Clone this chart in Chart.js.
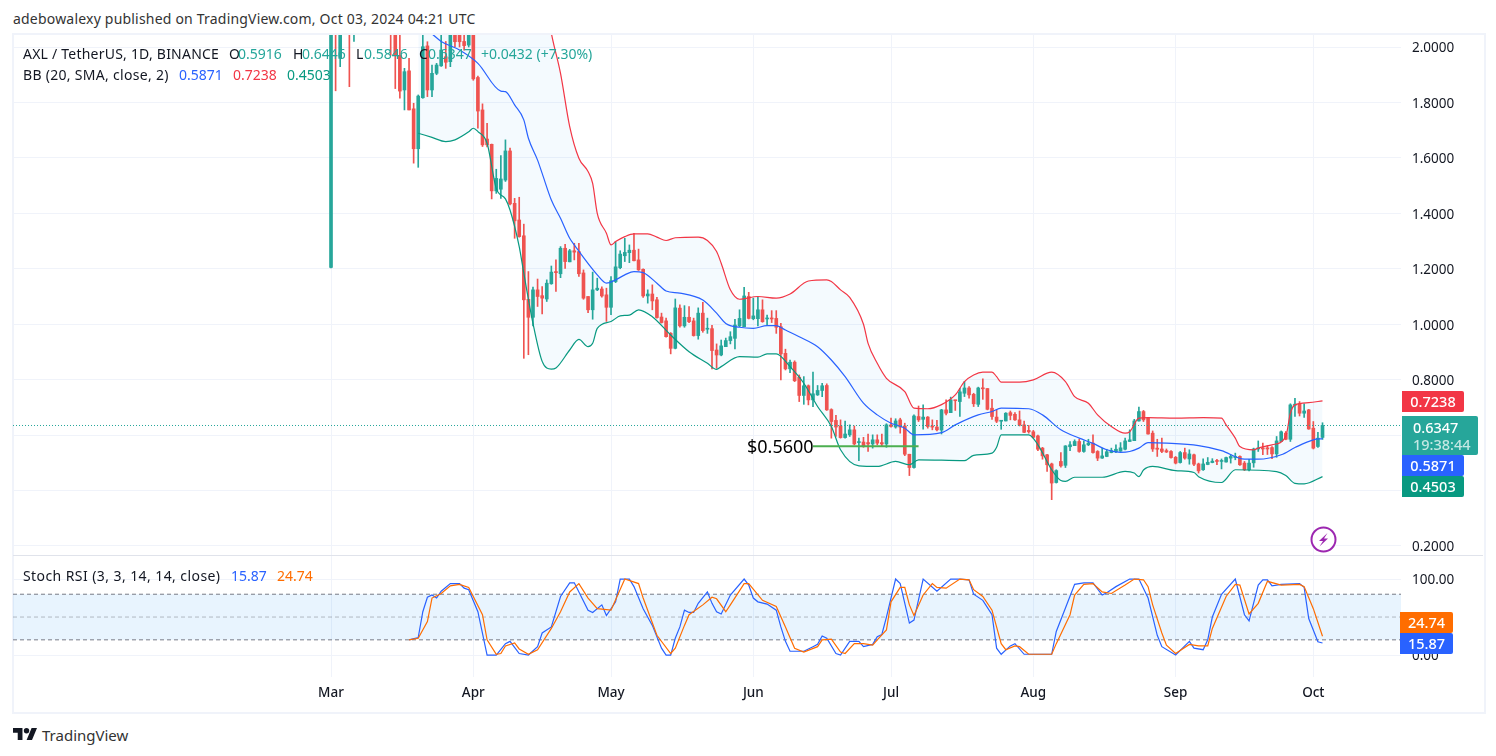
<!DOCTYPE html>
<html>
<head>
<meta charset="utf-8">
<script src="https://cdn.jsdelivr.net/npm/chart.js@4/dist/chart.umd.min.js"></script>
<style>
  html, body { margin: 0; padding: 0; background: #fff; }
  body { width: 1496px; height: 756px; position: relative; overflow: hidden; font-family: "Noto Sans", sans-serif; color: #131722; }
  #frame { position: absolute; left: 12px; top: 33px; width: 1470px; height: 677px; border: 2px solid #f0f3fa; box-sizing: content-box; }
  #sep { position: absolute; left: 13px; top: 555px; width: 1470px; height: 1px; background: #e0e3eb; }
  canvas { position: absolute; }
  #priceChart { left: 13px; top: 35px; }
  #rsiChart { left: 13px; top: 556px; }
  .t { position: absolute; font-size: 14px; line-height: 18px; white-space: nowrap; }
  .tag { position: absolute; left: 1402px; width: 62px; color: #fff; font-size: 14.5px; font-weight: 500; line-height: 21px; text-align: center; border-radius: 0 2px 2px 0; }
</style>
</head>
<body>
<div id="frame"></div>
<canvas id="priceChart" width="1471" height="520"></canvas>
<canvas id="rsiChart" width="1471" height="156"></canvas>
<div id="sep"></div>

<div class="t" style="left:13px;top:10px;letter-spacing:.2px;color:#333">adebowalexy published on TradingView.com, Oct 03, 2024 04:21 UTC</div>

<div class="t" style="left:23px;top:45px;letter-spacing:.22px">AXL / TetherUS, 1D, BINANCE</div>
<div class="t" style="left:229px;top:45px">O</div><div class="t" style="left:238px;top:45px;color:#26a69a">0.5916</div>
<div class="t" style="left:293px;top:45px">H</div><div class="t" style="left:302px;top:45px;color:#26a69a">0.6446</div>
<div class="t" style="left:356px;top:45px">L</div><div class="t" style="left:364px;top:45px;color:#26a69a">0.5846</div>
<div class="t" style="left:419px;top:45px">C</div><div class="t" style="left:428px;top:45px;color:#26a69a">0.6347</div>
<div class="t" style="left:481px;top:45px;color:#26a69a">+0.0432 (+7.30%)</div>
<div class="t" style="left:23px;top:66px;letter-spacing:.3px">BB (20, SMA, close, 2)</div>
<div class="t" style="left:179px;top:66px;color:#2962ff">0.5871</div>
<div class="t" style="left:233px;top:66px;color:#f23645">0.7238</div>
<div class="t" style="left:287px;top:66px;color:#089981">0.4503</div>

<div class="t" style="left:23px;top:567px;letter-spacing:.42px">Stoch RSI (3, 3, 14, 14, close)</div>
<div class="t" style="left:231px;top:567px;color:#2962ff">15.87</div>
<div class="t" style="left:277px;top:567px;color:#ff6d00">24.74</div>

<div class="t" style="left:747px;top:433px;font-size:18px;line-height:26px;color:#000">$0.5600</div>

<div class="tag" style="top:391px;background:#f23645">0.7238</div>
<div class="tag" style="top:416px;width:76px;height:39px;background:#26a69a;text-align:left;line-height:17px;padding-top:3px;box-sizing:border-box"><span style="margin-left:11px">0.6347</span><br><span style="margin-left:11px;color:#c4e8e4">19:38:44</span></div>
<div class="tag" style="top:455px;background:#2962ff">0.5871</div>
<div class="tag" style="top:476px;background:#089981">0.4503</div>
<div class="tag" style="top:612px;left:1400px;width:53px;background:#ff6d00">24.74</div>
<div class="tag" style="top:633px;left:1400px;width:53px;background:#2962ff">15.87</div>

<svg style="position:absolute;left:1310px;top:526px" width="27" height="27" viewBox="0 0 27 27">
  <circle cx="13.5" cy="13.5" r="12" fill="#fff" stroke="#9c27b0" stroke-width="2"/>
  <path d="M17.5 7 L9 15 L13 15 L9.5 20.5 L18 12.5 L14 12.5 Z" fill="#9c27b0"/>
</svg>

<svg style="position:absolute;left:13px;top:728px" width="24" height="12.2" viewBox="0 4 35.5 18">
  <path d="M14 22H7V11H0V4h14v18zM28 22h-8l7.5-18h8L28 22z" fill="#131722"/>
  <circle cx="20" cy="8" r="4" fill="#131722"/>
</svg>
<div class="t" style="left:42px;top:726px;font-size:15px;color:#333">TradingView</div>

<script>
// daily candles, index 0 = 1 Mar 2024, the ones above 2.04 are off the chart in the picture
const opens = [
  1.205,2.55,1.959,2.35,2.25,2.1,2.4,2.3,2.4,2.6,
  2.5,2.4,2.3,2.2,2.08,1.97,1.845,1.914,1.777,1.633,
  1.817,2.004,1.845,1.905,1.932,1.965,1.947,2.06,2.05,2.02,
  2.007,2.05,1.89,1.773,1.668,1.649,1.481,1.487,1.52,1.625,
  1.436,1.376,1.319,1.09,1.025,1.124,1.103,1.091,1.146,1.19,
  1.182,1.274,1.225,1.265,1.262,1.185,1.1,1.052,1.124,1.127,
  1.106,1.061,1.154,1.204,1.247,1.258,1.267,1.232,1.198,1.102,
  1.109,1.088,1.026,1.012,.967,.913,1.058,.994,1.025,1.012,
  .959,1.04,.982,.984,.907,.889,.919,.941,.949,.994,
  .991,1.1,1.02,1.02,1.052,1.019,1.021,1.021,.991,.895,
  .839,.863,.809,.743,.778,.727,.745,.761,.779,.692,
  .653,.633,.591,.601,.619,.573,.575,.573,.568,.583,
  .573,.568,.637,.629,.655,.633,.531,.483,.667,.657,
  .665,.633,.629,.618,.691,.681,.726,.721,.751,.77,
  .747,.711,.768,.768,.697,.665,.65,.651,.681,.675,
  .655,.637,.617,.612,.597,.553,.529,.496,.429,.505,
  .491,.558,.562,.577,.541,.565,.571,.541,.517,.523,
  .537,.54,.542,.549,.577,.58,.651,.685,.661,.607,
  .553,.55,.544,.541,.52,.501,.537,.514,.529,.496,
  .475,.494,.501,.506,.505,.503,.517,.519,.523,.499,
  .475,.5,.55,.553,.554,.555,.532,.577,.607,.585,
  .708,.713,.679,.691,.625,.559,.5916
];
const highs = [
  2.65,2.7,2.5,2.45,2.4,2.5,2.6,2.5,2.7,2.8,
  2.65,2.5,2.45,2.35,2.2,2.1,1.923,1.959,1.797,1.827,
  2.047,2.019,1.935,1.941,2.047,2.02,2.08,2.1,2.09,2.05,
  2.09,2.1,1.895,1.795,1.725,1.65,1.559,1.608,1.665,1.635,
  1.454,1.458,1.361,1.19,1.134,1.163,1.136,1.16,1.21,1.232,
  1.28,1.288,1.27,1.292,1.292,1.196,1.1,1.188,1.166,1.135,
  1.13,1.172,1.298,1.265,1.31,1.286,1.328,1.271,1.2,1.124,
  1.142,1.097,1.04,1.022,.97,1.091,1.07,1.067,1.064,1.022,
  1.059,1.079,1.022,.996,.929,.943,.95,.973,1.018,1.052,
  1.133,1.115,1.094,1.097,1.088,1.033,1.049,1.049,1.003,.91,
  .871,.868,.817,.811,.781,.827,.779,.787,.785,.695,
  .671,.655,.651,.637,.633,.589,.592,.604,.601,.601,
  .604,.641,.661,.659,.661,.643,.531,.673,.705,.709,
  .667,.655,.653,.693,.727,.737,.726,.769,.794,.775,
  .751,.773,.803,.768,.729,.691,.653,.681,.687,.681,
  .687,.651,.635,.617,.6,.556,.531,.499,.475,.537,
  .562,.577,.583,.585,.579,.585,.601,.544,.553,.549,
  .553,.565,.573,.589,.619,.657,.701,.689,.664,.615,
  .585,.589,.55,.544,.523,.541,.553,.547,.532,.499,
  .514,.519,.515,.513,.514,.521,.529,.535,.525,.505,
  .513,.553,.579,.571,.562,.559,.595,.615,.613,.713,
  .733,.721,.713,.693,.649,.61,.6446
];
const lows = [
  1.203,1.842,1.929,2.15,1.857,2.02,2.2,2.15,2.3,2.4,
  2.3,2.2,2.1,1.97,1.85,1.815,1.773,1.773,1.581,1.566,
  1.815,1.821,1.821,1.9,1.93,1.923,1.929,2.0,2.0,1.989,
  2.0,1.88,1.707,1.641,1.64,1.452,1.472,1.454,1.515,1.43,
  1.31,1.314,.877,.89,.994,1.064,1.037,1.082,1.144,1.118,
  1.168,1.201,1.225,1.232,1.172,1.09,1.042,1.018,1.121,1.098,
  1.01,1.034,1.15,1.2,1.226,1.222,1.228,1.194,1.097,1.076,
  1.052,1.022,1.004,.953,.893,.911,.989,.989,1.006,.957,
  .946,.971,.967,.839,.841,.886,.919,.929,.911,.991,
  .991,1.019,1.016,.994,1.007,.997,1.006,.967,.799,.835,
  .825,.793,.721,.711,.709,.703,.743,.739,.689,.589,
  .595,.589,.589,.595,.565,.508,.556,.541,.553,.565,
  .561,.556,.629,.625,.607,.526,.454,.481,.649,.621,
  .625,.619,.615,.604,.673,.681,.689,.667,.739,.733,
  .703,.703,.729,.691,.657,.645,.621,.651,.655,.653,
  .633,.609,.607,.589,.544,.513,.469,.367,.427,.484,
  .483,.544,.562,.538,.538,.562,.535,.508,.516,.522,
  .536,.537,.541,.547,.577,.58,.65,.649,.603,.541,
  .523,.537,.537,.517,.496,.499,.513,.495,.49,.463,
  .473,.493,.5,.493,.478,.502,.499,.511,.491,.472,
  .471,.484,.541,.529,.53,.515,.52,.576,.583,.577,
  .667,.669,.664,.621,.55,.556,.5846
];
const closes = [
  2.55,2.35,2.35,2.25,2.1,2.4,2.3,2.4,2.6,2.5,
  2.4,2.3,2.2,2.08,1.97,1.841,1.911,1.773,1.633,1.823,
  2.001,1.845,1.905,1.935,1.989,1.945,2.047,2.019,2.019,2.005,
  2.043,1.885,1.769,1.647,1.647,1.481,1.526,1.524,1.625,1.434,
  1.373,1.316,1.088,1.025,1.124,1.1,1.094,1.148,1.188,1.186,
  1.274,1.226,1.265,1.26,1.182,1.094,1.052,1.124,1.13,1.102,
  1.061,1.157,1.207,1.253,1.259,1.267,1.229,1.196,1.102,1.109,
  1.084,1.024,1.006,.955,.913,1.059,.994,1.025,1.009,.959,
  1.04,.977,.984,.905,.889,.922,.941,.955,.997,1.021,
  1.102,1.021,1.03,1.052,1.009,1.021,1.019,.989,.893,.839,
  .863,.796,.743,.778,.727,.749,.761,.778,.691,.649,
  .629,.591,.604,.619,.568,.575,.562,.568,.583,.571,
  .568,.637,.631,.651,.629,.531,.483,.669,.655,.665,
  .631,.629,.619,.691,.679,.727,.724,.756,.77,.745,
  .713,.77,.767,.693,.667,.65,.653,.679,.671,.655,
  .636,.61,.612,.592,.549,.525,.493,.427,.472,.489,
  .561,.565,.577,.541,.565,.571,.537,.517,.525,.54,
  .544,.549,.554,.579,.583,.651,.685,.655,.604,.55,
  .549,.541,.539,.519,.499,.537,.517,.532,.495,.471,
  .496,.502,.506,.505,.508,.519,.523,.52,.493,.475,
  .499,.55,.551,.55,.55,.532,.579,.612,.585,.709,
  .711,.679,.687,.622,.553,.589,.6347
];

// bollinger bands read at the bends
const upperDays = [19,24,28,32,36,40,44,47,48,50,52,54,56,57,58,60,61,62,64,66,69,71,73,75,80,82,84,85,87,89,93,97,100,104,108,109,111,113,116,117,119,121,125,127,130,133,136,138,140,142,144,145,146,150,153,157,160,162,165,167,170,173,174,176,178,184,190,194,195,197,198,201,202,205,208,209,210,213,216];
const upper = [2.47,2.39,2.32,2.2,2.21,2.22,2.3,2.15,2.05,1.905,1.713,1.599,1.551,1.508,1.4,1.328,1.286,1.298,1.316,1.326,1.326,1.314,1.302,1.312,1.314,1.302,1.262,1.22,1.124,1.09,1.1,1.094,1.109,1.156,1.16,1.154,1.124,1.097,1.0,.931,.859,.805,.757,.697,.695,.71,.745,.793,.817,.827,.827,.811,.791,.791,.799,.827,.793,.739,.715,.673,.631,.607,.612,.661,.663,.661,.663,.661,.637,.589,.559,.547,.553,.565,.595,.679,.709,.717,.7238];
const midDays = [19,22,24,28,32,37,38,40,42,43,45,46,48,50,52,53,58,60,62,64,66,68,71,73,76,81,84,86,89,92,95,97,99,102,106,109,112,116,119,122,125,127,133,136,141,144,146,152,155,159,163,166,169,172,174,176,178,182,189,194,199,202,207,210,214,216];
const mid = [2.08,2.047,2.02,1.989,1.941,1.841,1.839,1.791,1.737,1.671,1.592,1.544,1.448,1.382,1.31,1.286,1.178,1.148,1.16,1.178,1.19,1.186,1.148,1.12,1.112,1.087,1.04,1.003,.989,.985,.995,.995,.979,.955,.919,.871,.811,.715,.673,.643,.625,.601,.609,.637,.673,.685,.697,.695,.673,.619,.589,.57,.547,.538,.541,.553,.573,.571,.562,.544,.513,.513,.529,.555,.583,.5871];
const lowerDays = [19,22,25,27,30,31,32,34,36,38,39,41,42,44,46,48,49,52,54,56,57,58,61,63,65,67,70,74,78,82,84,85,89,93,95,97,100,103,106,109,111,115,119,123,126,128,138,140,144,145,146,152,154,157,159,160,162,168,173,175,176,177,179,184,188,189,194,197,206,208,210,212,216];
const lower = [1.689,1.674,1.659,1.665,1.694,1.707,1.695,1.653,1.49,1.452,1.412,1.28,1.184,1.003,.866,.838,.842,.907,.945,.919,.931,.985,1.01,1.03,1.033,1.052,1.027,.961,.901,.859,.837,.847,.883,.881,.893,.893,.847,.787,.703,.631,.547,.489,.487,.505,.493,.511,.508,.527,.535,.556,.601,.601,.565,.475,.436,.433,.448,.448,.469,.463,.45,.474,.487,.472,.465,.45,.429,.475,.468,.454,.426,.424,.4503];

// stoch rsi
const kDays = [17,19,20,21,22,23,24,26,28,29,30,32,34,36,38,39,41,43,45,46,48,50,52,53,56,57,59,60,62,63,65,66,68,70,72,73,74,75,76,77,78,79,80,82,83,84,85,87,90,91,92,93,95,97,98,99,100,103,105,106,107,108,110,111,113,115,116,118,119,120,121,123,124,126,127,129,132,135,137,139,140,142,144,145,146,148,149,151,157,158,160,162,164,166,168,169,171,174,176,178,180,181,184,187,188,190,191,192,194,197,199,200,202,203,204,205,207,211,212,213,215,216];
const kValues = [20,23,57,76,79,75,84,94,94,88,86,57,0,0,15,18,2,0,11,29,37,77,95,95,59,56,66,52,70,100,100,90,61,39,9,0,0,22,37,59,56,56,68,83,68,57,54,79,100,92,75,70,67,59,37,18,5,5,11,14,25,22,2,0,18,18,11,14,24,27,50,100,94,42,46,100,84,100,100,99,80,72,53,9,1,12,15,1,1,31,62,93,95,95,79,82,90,100,100,75,26,11,0,18,9,7,20,50,80,100,53,45,92,99,99,91,93,94,89,48,17.5,15.87];
const dDays = [17,19,21,22,24,26,28,30,33,34,36,37,38,40,41,43,45,48,50,52,54,56,58,61,64,67,68,71,74,75,77,78,81,83,84,86,87,90,91,94,97,99,101,103,106,107,109,111,112,114,116,118,119,121,122,124,125,126,127,129,131,132,134,137,139,140,142,144,146,147,149,150,152,157,158,161,162,164,166,168,170,173,175,177,178,179,181,182,184,187,189,191,192,195,197,198,200,202,204,207,211,212,214,216];
const dValues = [20,22,44,75,81,91,93,89,53,20,1,2,12,16,8,1,7,35,57,83,94,75,61,59,100,94,75,26,2,9,39,53,66,76,74,57,66,94,94,72,64,37,9,4,11,20,21,4,2,15,15,13,20,33,70,89,89,66,52,79,94,89,88,100,99,86,77,59,15,7,12,11,1,1,15,53,79,93,94,83,81,92,100,99,90,66,29,13,2,14,12,12,35,77,93,92,54,68,97,92,93,90,61,24.74];

const monthDays = [0,31,61,92,122,153,184,214];
const monthLabels = ['Mar','Apr','May','Jun','Jul','Aug','Sep','Oct'];
const lastPrice = 0.6347;
const supportPrice = 0.56;
const supportDays = [105,128];
const rsiLevels = [80,50,20];

const UP = '#26a69a', DOWN = '#ef5350', GRID = '#f0f3fa';
const X_MIN = -69.28, X_MAX = 233.1;

const pts = (days, vals) => days.map((d, i) => ({ x: d, y: vals[i] }));
const candleColors = opens.map((o, i) => closes[i] >= o ? UP : DOWN);

function monthTicks(axis) {
  axis.ticks = monthDays.map(d => ({ value: d }));
}
// the tick labels must not shrink the plot area
function fixRightAxis(a) {
  a.width = 83;
  a.paddingTop = 0;
  a.paddingBottom = 0;
}

new Chart(document.getElementById('priceChart'), {
  type: 'bar',
  data: {
    datasets: [
      { type: 'line', label: 'upper', data: pts(upperDays, upper), borderColor: '#f23645', borderWidth: 1.2, pointRadius: 0, cubicInterpolationMode: 'monotone', fill: { target: 2 }, backgroundColor: 'rgba(33,150,243,0.05)', order: 1 },
      { type: 'line', label: 'mid', data: pts(midDays, mid), borderColor: '#2962ff', borderWidth: 1.2, pointRadius: 0, cubicInterpolationMode: 'monotone', order: 1 },
      { type: 'line', label: 'lower', data: pts(lowerDays, lower), borderColor: '#089981', borderWidth: 1.2, pointRadius: 0, cubicInterpolationMode: 'monotone', order: 1 },
      { label: 'wicks', data: opens.map((o, i) => ({ x: i, y: [lows[i], highs[i]] })), backgroundColor: candleColors, barThickness: 1, grouped: false, order: 3 },
      { label: 'bodies', data: opens.map((o, i) => ({ x: i, y: [o, closes[i]] })), backgroundColor: candleColors, barThickness: 3, minBarLength: 1, grouped: false, order: 2 },
      { type: 'line', label: 'last', data: [{ x: X_MIN, y: lastPrice }, { x: X_MAX, y: lastPrice }], borderColor: '#26a69a', borderWidth: 1, borderDash: [1, 2], pointRadius: 0, order: 0 },
      { type: 'line', label: 'support', data: supportDays.map(d => ({ x: d, y: supportPrice })), borderColor: '#4caf50', borderWidth: 2, pointRadius: 0, order: 0 }
    ]
  },
  options: {
    responsive: false,
    animation: false,
    events: [],
    plugins: {
      legend: { display: false },
      tooltip: { enabled: false },
      filler: { drawTime: 'beforeDatasetsDraw' }
    },
    scales: {
      x: {
        type: 'linear', min: X_MIN, max: X_MAX, offset: false,
        afterBuildTicks: monthTicks,
        afterFit: a => { a.height = 0; a.paddingLeft = 0; a.paddingRight = 0; },
        grid: { color: GRID, drawTicks: false, offset: false },
        border: { display: false },
        ticks: { display: false }
      },
      y: {
        position: 'right', min: 0.1675, max: 2.0433,
        afterFit: fixRightAxis,
        grid: { color: GRID, drawTicks: false },
        border: { display: false },
        ticks: {
          stepSize: 0.2, includeBounds: false, padding: 11, labelOffset: 1.5, color: '#131722',
          font: { family: '"Noto Sans"', size: 13.5 },
          callback: v => v.toFixed(4)
        }
      }
    }
  }
});

const bandPlugin = {
  id: 'rsiBand',
  beforeDatasetsDraw(chart) {
    const { ctx, chartArea, scales } = chart;
    const y = scales.y;
    ctx.save();
    ctx.fillStyle = 'rgba(33,150,243,0.1)';
    ctx.fillRect(chartArea.left, y.getPixelForValue(rsiLevels[0]), chartArea.width, y.getPixelForValue(rsiLevels[2]) - y.getPixelForValue(rsiLevels[0]));
    ctx.restore();
  }
};

const levelSets = rsiLevels.map((lv, i) => ({
  type: 'line', data: [{ x: X_MIN, y: lv }, { x: X_MAX, y: lv }],
  borderColor: i === 1 ? 'rgba(120,123,134,0.5)' : '#787b86', borderWidth: 1, borderDash: [4, 3], pointRadius: 0, order: 3
}));

new Chart(document.getElementById('rsiChart'), {
  type: 'line',
  data: {
    datasets: [
      ...levelSets,
      { label: 'K', data: pts(kDays, kValues), borderColor: '#2962ff', borderWidth: 1.2, pointRadius: 0, order: 2 },
      { label: 'D', data: pts(dDays, dValues), borderColor: '#ff6d00', borderWidth: 1.2, pointRadius: 0, order: 1 }
    ]
  },
  plugins: [bandPlugin],
  options: {
    responsive: false,
    animation: false,
    events: [],
    plugins: { legend: { display: false }, tooltip: { enabled: false } },
    scales: {
      x: {
        type: 'linear', min: X_MIN, max: X_MAX,
        afterBuildTicks: monthTicks,
        afterFit: a => { a.height = 35; a.paddingLeft = 0; a.paddingRight = 0; },
        grid: { color: GRID, drawTicks: false },
        border: { display: false },
        ticks: {
          padding: 8, maxRotation: 0, autoSkip: false, color: '#131722',
          font: { family: '"Noto Sans"', size: 13.5, weight: '500' },
          callback: v => monthLabels[monthDays.indexOf(v)]
        }
      },
      y: {
        position: 'right', min: -28.9, max: 130.3,
        afterBuildTicks: a => { a.ticks = [{ value: 0 }, { value: 100 }]; },
        afterFit: fixRightAxis,
        grid: { color: GRID, drawTicks: false },
        border: { display: false },
        ticks: {
          padding: 11, labelOffset: 1, color: '#131722',
          font: { family: '"Noto Sans"', size: 13.5 },
          callback: v => v.toFixed(2)
        }
      }
    }
  }
});
</script>
</body>
</html>
